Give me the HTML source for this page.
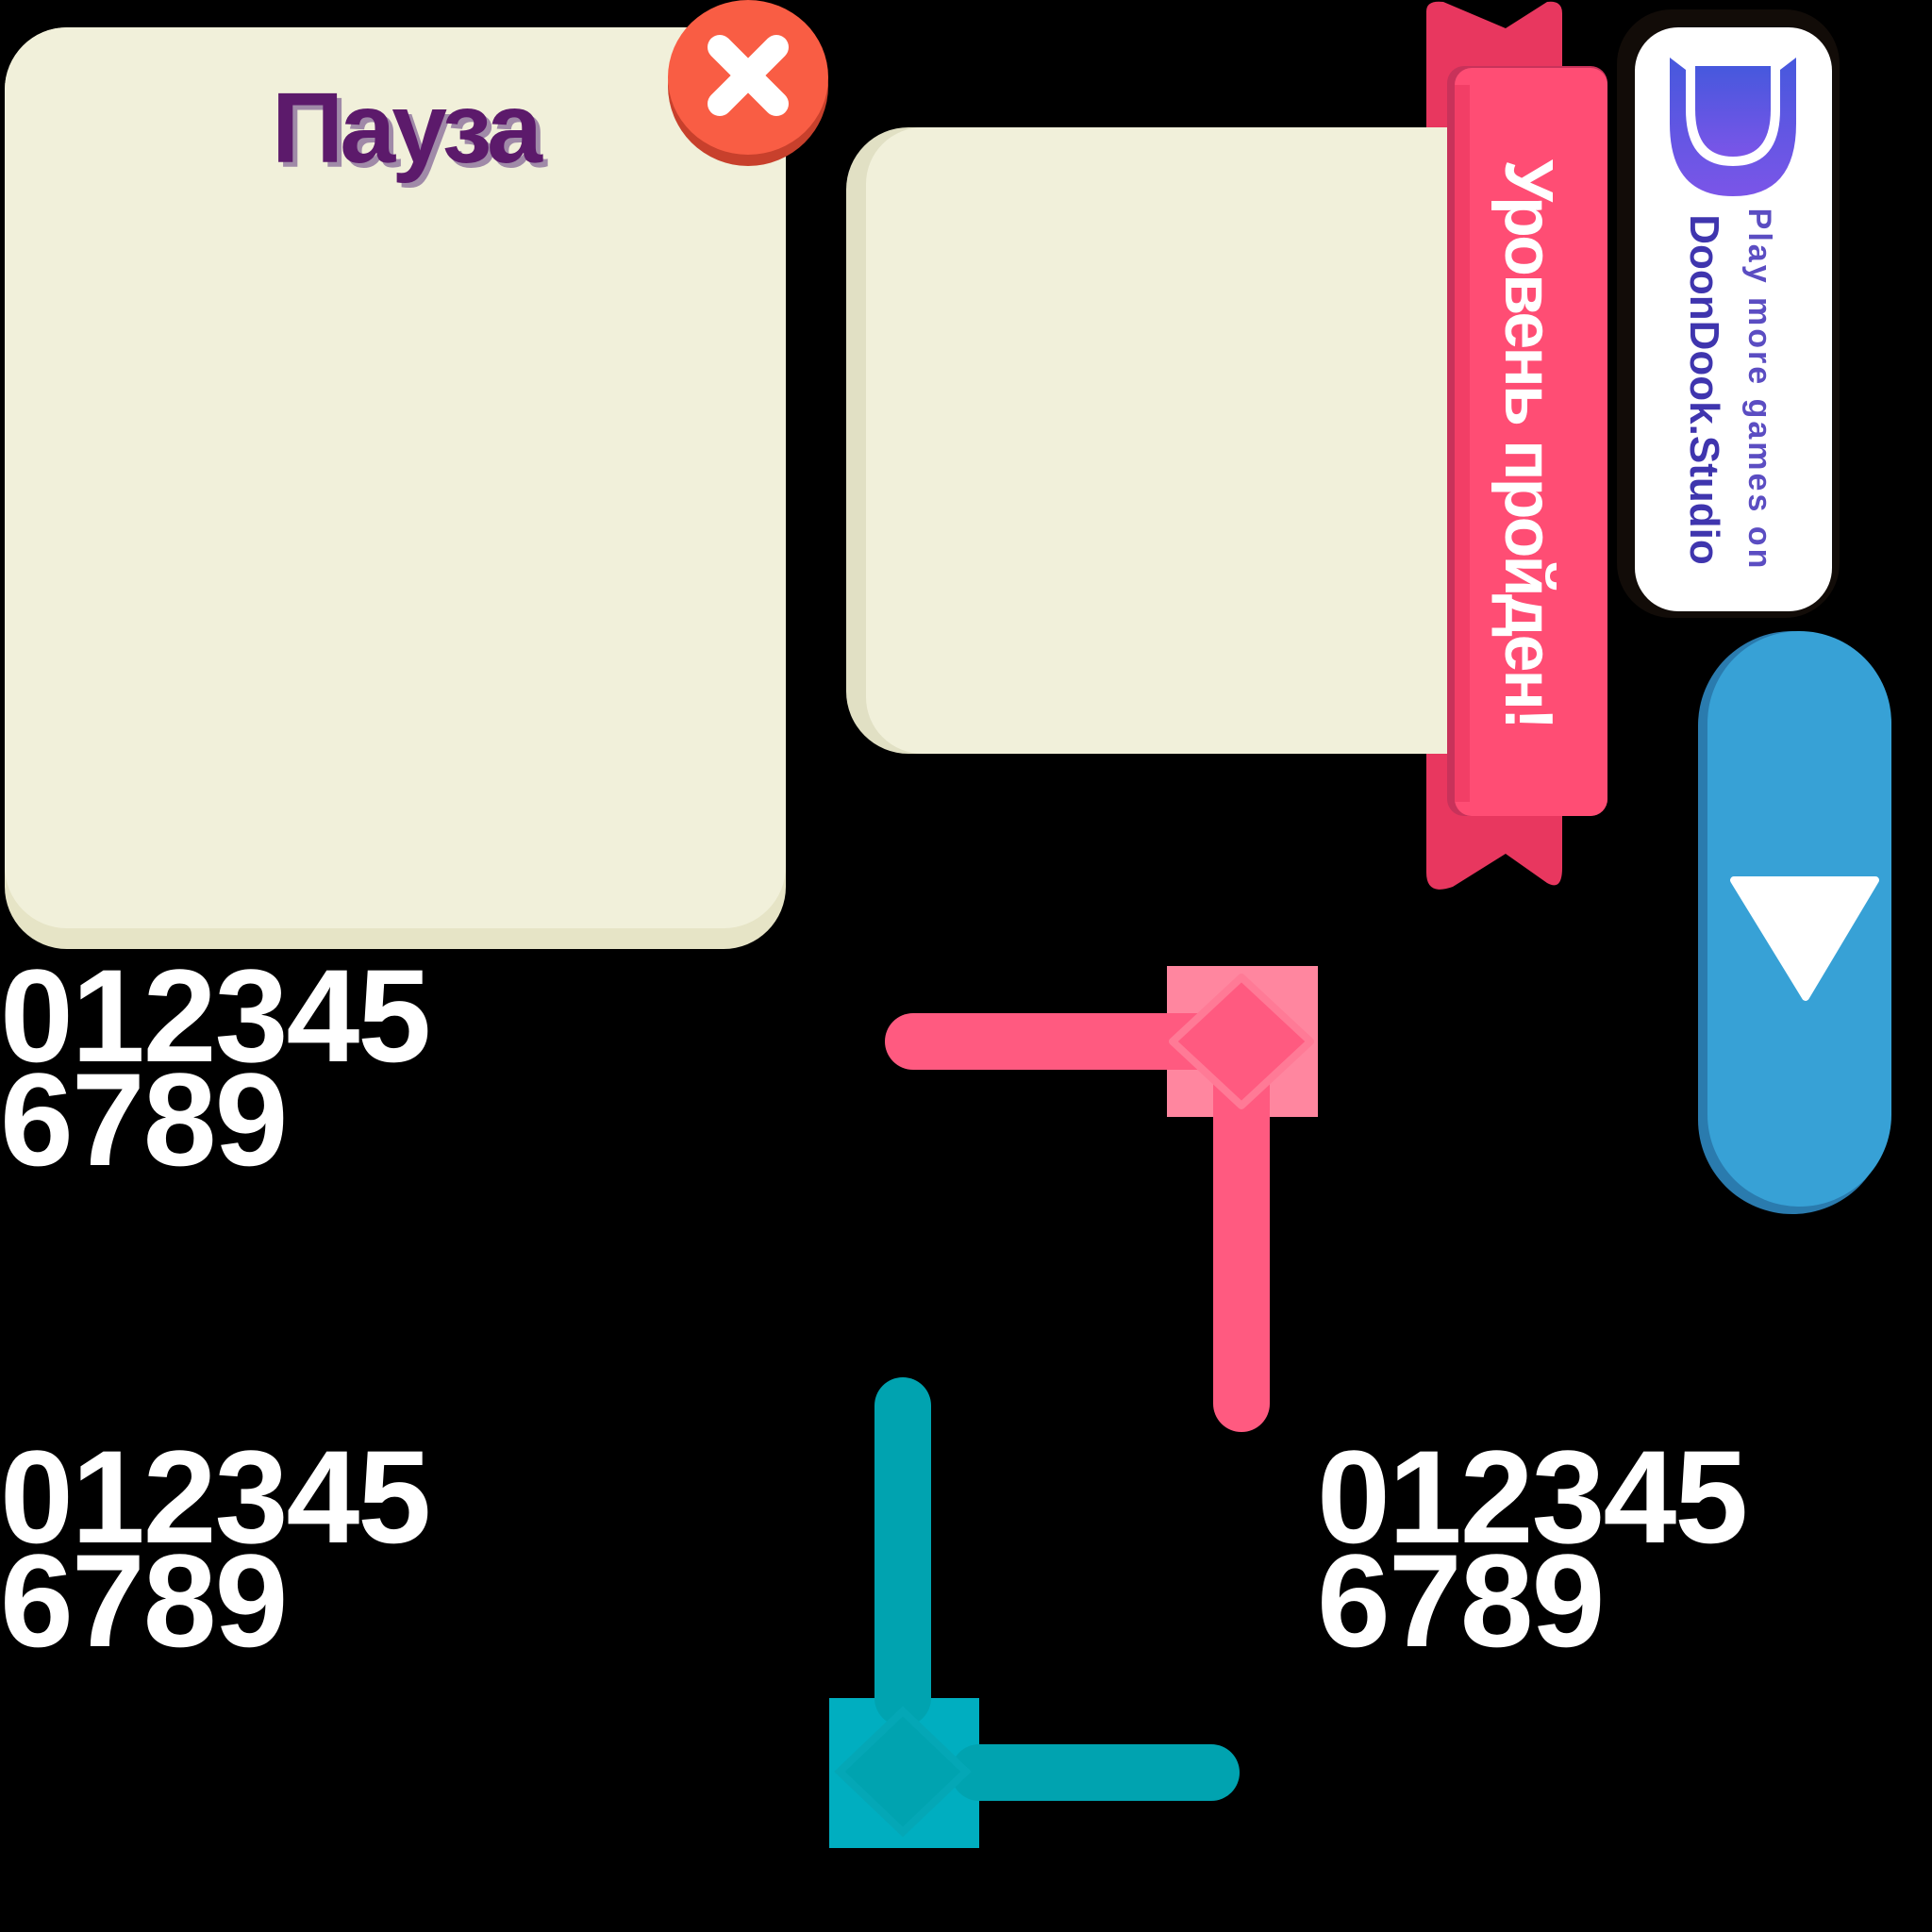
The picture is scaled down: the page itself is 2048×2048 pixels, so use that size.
<!DOCTYPE html>
<html><head><meta charset="utf-8"><style>
html,body{margin:0;padding:0;background:#000;}
body{width:2048px;height:2048px;position:relative;overflow:hidden;font-family:"Liberation Sans",sans-serif;}
.a{position:absolute;}
.dig{position:absolute;color:#fff;font-weight:bold;font-size:140px;line-height:110px;letter-spacing:-2px;}
</style></head><body>

<!-- Pause panel -->
<div class="a" style="left:5px;top:29px;width:828px;height:977px;border-radius:66px;background:#e6e4c6;"></div>
<div class="a" style="left:5px;top:29px;width:828px;height:955px;border-radius:66px;background:#f1f0da;"></div>
<div class="a" style="left:288px;top:76px;font-size:106px;font-weight:bold;color:#5c1a6b;letter-spacing:-4px;text-shadow:5px 5px 0 #a08aa8;">Пауза</div>

<!-- close button -->
<div class="a" style="left:708px;top:6px;width:170px;height:170px;border-radius:50%;background:#c8402c;"></div>
<div class="a" style="left:708px;top:0px;width:170px;height:164px;border-radius:50%;background:#f95d44;"></div>
<svg class="a" style="left:708px;top:0" width="170" height="164"><g stroke="#fff" stroke-width="26" stroke-linecap="round"><line x1="55" y1="50" x2="115" y2="110"/><line x1="115" y1="50" x2="55" y2="110"/></g></svg>

<!-- back ribbon -->
<svg class="a" style="left:1500px;top:0" width="220" height="950">
<path d="M12 12 Q12 0 30 2 L96 30 L140 2 Q156 0 156 14 L156 920 Q156 945 140 936 L96 905 L40 940 Q12 950 12 925 Z" fill="#e8375f"/>
</svg>

<!-- level complete panel -->
<div class="a" style="left:897px;top:135px;width:700px;height:664px;border-radius:66px;background:#e1e0c4;"></div>
<div class="a" style="left:918px;top:135px;width:680px;height:664px;border-radius:60px;background:#f1f0da;"></div>

<!-- front ribbon -->
<svg class="a" style="left:1500px;top:0" width="220" height="950">
<rect x="34" y="70" width="170" height="795" rx="18" fill="#c8325a"/>
<rect x="42" y="72" width="162" height="793" rx="18" fill="#ff4d74"/>
<rect x="42" y="90" width="16" height="760" fill="#f23e66"/>
</svg>
<div class="a" style="left:1620px;top:470px;width:0;height:0;">
<div style="position:absolute;left:-340px;top:-42px;width:680px;text-align:center;transform:rotate(90deg);color:#fff;font-weight:bold;font-size:72px;line-height:84px;letter-spacing:-3px;white-space:nowrap;">Уровень пройден!</div>
</div>

<!-- DoonDook -->
<div class="a" style="left:1714px;top:10px;width:236px;height:645px;border-radius:58px;background:#120c08;"></div>
<div class="a" style="left:1733px;top:29px;width:209px;height:619px;border-radius:46px;background:#fff;"></div>
<svg class="a" style="left:1762px;top:56px" width="150" height="160">
<defs><linearGradient id="g" x1="0" y1="0" x2="0" y2="1"><stop offset="0" stop-color="#4658dd"/><stop offset="1" stop-color="#7b55e8"/></linearGradient></defs>
<path d="M8 5 L25 18 L25 60 Q25 120 75 120 Q125 120 125 60 L125 18 L142 5 L142 75 Q142 152 75 152 Q8 152 8 75 Z" fill="url(#g)"/>
<path d="M35 14 L115 14 L115 60 Q115 110 75 110 Q35 110 35 60 Z" fill="url(#g)"/>
</svg>
<div class="a" style="left:1865px;top:413px;width:0;height:0;">
<div style="position:absolute;left:-200px;top:-19px;width:400px;text-align:center;transform:rotate(90deg);color:#5b4dc2;font-weight:bold;font-size:34px;line-height:38px;letter-spacing:3px;white-space:nowrap;">Play more games on</div>
</div>
<div class="a" style="left:1806px;top:413px;width:0;height:0;">
<div style="position:absolute;left:-200px;top:-25px;width:400px;text-align:center;transform:rotate(90deg);color:#3f35ae;font-weight:bold;font-size:44px;line-height:50px;white-space:nowrap;">DoonDook.Studio</div>
</div>

<!-- blue pill -->
<div class="a" style="left:1800px;top:669px;width:200px;height:618px;border-radius:100px;background:#2a7bae;"></div>
<div class="a" style="left:1810px;top:669px;width:195px;height:610px;border-radius:98px;background:#37a1d6;"></div>
<svg class="a" style="left:1830px;top:925px" width="170" height="145"><path d="M8 8 L158 8 L84 132 Z" fill="#fff" stroke="#fff" stroke-width="8" stroke-linejoin="round"/></svg>

<!-- digits -->
<div class="dig" style="left:0;top:1022px;">012345<br>6789</div>
<div class="dig" style="left:0;top:1532px;">012345<br>6789</div>
<div class="dig" style="left:1396px;top:1532px;">012345<br>6789</div>

<!-- connectors -->
<svg class="a" style="left:0;top:0" width="2048" height="2048">
<rect x="1237" y="1024" width="160" height="160" fill="#ff869f"/>
<line x1="968" y1="1104" x2="1280" y2="1104" stroke="#ff5a80" stroke-width="60" stroke-linecap="round"/>
<line x1="1316" y1="1135" x2="1316" y2="1488" stroke="#ff5a80" stroke-width="60" stroke-linecap="round"/>
<path d="M1316 1036 L1389 1104 L1316 1172 L1243 1104 Z" fill="#ff5a80" stroke="#ff7a96" stroke-width="8" stroke-linejoin="round"/>

<rect x="879" y="1800" width="159" height="159" fill="#00aec0"/>
<line x1="957" y1="1490" x2="957" y2="1800" stroke="#00a3b0" stroke-width="60" stroke-linecap="round"/>
<line x1="1038" y1="1879" x2="1284" y2="1879" stroke="#00a3b0" stroke-width="60" stroke-linecap="round"/>
<path d="M957 1814 L1024 1878 L957 1942 L890 1878 Z" fill="#00a3b0" stroke="#04a7b6" stroke-width="8"/>
</svg>
</body></html>
